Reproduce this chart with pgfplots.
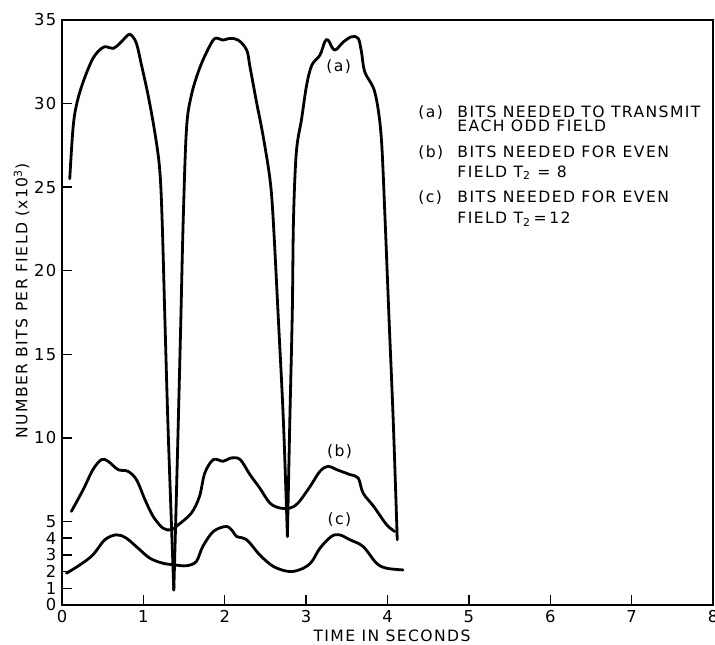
\documentclass[border=0pt]{standalone}
\usepackage{fontspec}
\setmainfont{DejaVu Sans}[LetterSpace=9]
\usepackage{pgfplots}
\usepackage{pgfplotstable}
\pgfplotsset{compat=1.18}

% (a) bits for each odd field
\pgfplotstableread{
x y
0.095 25.5
0.135 28.5
0.177 29.9
0.26 31.3
0.38 32.7
0.485 33.3
0.546 33.4
0.63 33.3
0.71 33.6
0.81 34.1
0.85 34.1
0.915 33.6
0.977 32.3
1.058 30.5
1.14 28.3
1.20 26.1
1.23 23.1
1.265 17
1.30 11.1
1.34 5.5
1.374 0.9
1.40 5.5
1.43 11.1
1.46 17
1.49 23.1
1.53 28.5
1.59 30.5
1.69 32.1
1.80 33.3
1.88 33.9
1.98 33.8
2.06 33.9
2.165 33.8
2.27 33.2
2.31 32.2
2.39 30.1
2.47 28.1
2.555 25.5
2.595 23.1
2.66 17
2.72 11.1
2.77 4.1
2.80 11.1
2.83 17.5
2.845 23.1
2.88 27.1
2.945 29.1
3.006 31.1
3.07 32.3
3.17 32.9
3.23 33.7
3.27 33.8
3.35 33.2
3.46 33.7
3.56 34.0
3.64 33.9
3.68 33.1
3.72 31.9
3.83 30.9
3.89 29.5
3.93 27.5
3.97 23.1
4.02 17
4.07 11.1
4.12 3.9
}\curvea

% (b) even field, T2 = 8
\pgfplotstableread{
x y
0.115 5.6
0.26 6.9
0.38 8.1
0.485 8.7
0.566 8.6
0.69 8.1
0.81 8.0
0.915 7.5
1.02 6.3
1.12 5.3
1.24 4.6
1.345 4.5
1.43 4.8
1.59 5.5
1.69 6.5
1.755 7.9
1.86 8.7
1.98 8.6
2.08 8.8
2.19 8.7
2.31 7.8
2.43 7.0
2.555 6.1
2.68 5.8
2.80 5.8
2.90 6.1
3.05 7.1
3.17 8.0
3.27 8.3
3.375 8.1
3.54 7.8
3.64 7.6
3.70 6.7
3.83 5.9
3.99 4.8
4.09 4.4
}\curveb

% (c) even field, T2 = 12
\pgfplotstableread{
x y
0.054 1.9
0.22 2.4
0.38 3.0
0.525 3.9
0.67 4.2
0.79 4.0
0.935 3.4
1.08 2.8
1.24 2.5
1.385 2.4
1.53 2.35
1.65 2.6
1.73 3.5
1.86 4.4
2.02 4.7
2.10 4.4
2.145 4.1
2.27 3.9
2.43 3.0
2.60 2.3
2.80 2.0
2.965 2.2
3.07 2.6
3.17 3.4
3.31 4.1
3.41 4.2
3.54 3.9
3.70 3.5
3.865 2.5
3.99 2.2
4.19 2.1
}\curvec

\begin{document}
\fontsize{7.8}{9}\selectfont
\begin{tikzpicture}
\useasboundingbox (-31pt,-19.5pt) rectangle (326.5pt,302.5pt);
\begin{axis}[
    at={(0,0)}, anchor=south west,
    scale only axis,
    width=325.5pt, height=292.5pt,
    xmin=0, xmax=8, ymin=0, ymax=35,
    xtick={0,1,...,8},
    ytick={0,1,2,3,4,5,10,15,20,25,30,35},
    tick pos=left,
    tick align=inside,
    major tick length=5pt,
    tick style={black, line width=0.7pt},
    axis line style={line width=1pt},
    ticklabel style={font=\fontsize{8.2}{9}\selectfont},
    /pgf/number format/assume math mode=true,
    xlabel={TIME IN SECONDS},
    ylabel={NUMBER BITS PER FIELD (x10\textsuperscript{3})},
    xlabel style={at={(axis description cs:0.507,-0.052)}, anchor=center},
    ylabel style={at={(axis description cs:-0.062,0.52)}, anchor=center},
    label style={font=\fontsize{7.8}{9}\selectfont},
    curve/.style={black, line width=1.4pt, no markers, smooth, tension=0.55, line cap=round, line join=round},
]
% curve (a) in three pieces so the dips stay sharp
\addplot[curve, restrict x to domain=0:1.3745] table {\curvea};
\addplot[curve, restrict x to domain=1.3735:2.7705] table {\curvea};
\addplot[curve, restrict x to domain=2.7695:5] table {\curvea};
\addplot[curve] table {\curveb};
\addplot[curve] table {\curvec};

\node at (axis cs:3.40,32.2) {(a)};
\node at (axis cs:3.41,9.2) {(b)};
\node at (axis cs:3.41,5.1) {(c)};

\node[anchor=base west, inner sep=0pt] at (axis cs:4.375,29.19) {(a)};
\node[anchor=base west, inner sep=0pt] at (axis cs:4.855,29.19) {BITS NEEDED TO TRANSMIT};
\node[anchor=base west, inner sep=0pt] at (axis cs:4.855,28.35) {EACH ODD FIELD};
\node[anchor=base west, inner sep=0pt] at (axis cs:4.375,26.79) {(b)};
\node[anchor=base west, inner sep=0pt] at (axis cs:4.855,26.79) {BITS NEEDED FOR EVEN};
\node[anchor=base west, inner sep=0pt] at (axis cs:4.855,25.6) {FIELD T\textsubscript{2} = 8};
\node[anchor=base west, inner sep=0pt] at (axis cs:4.375,24.1) {(c)};
\node[anchor=base west, inner sep=0pt] at (axis cs:4.855,24.1) {BITS NEEDED FOR EVEN};
\node[anchor=base west, inner sep=0pt] at (axis cs:4.855,22.8) {FIELD T\textsubscript{2}\,=\,12};
\end{axis}
\end{tikzpicture}
\end{document}
